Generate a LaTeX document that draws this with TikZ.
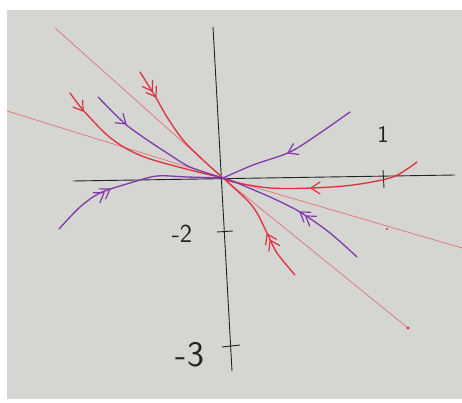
\documentclass[tikz,border=0pt]{standalone}
\definecolor{paper}{RGB}{213,213,209}
\definecolor{pen}{RGB}{222,48,62}
\definecolor{thinred}{RGB}{230,100,110}
\definecolor{violet2}{RGB}{128,58,170}
\definecolor{ink}{RGB}{35,35,35}
\tikzset{
 traj/.style={line width=1.3pt, line cap=round, line join=round},
 redtraj/.style={traj, color=pen},
 purtraj/.style={traj, color=violet2},
 guide/.style={line width=0.6pt, color=thinred},
 axisline/.style={line width=0.9pt, color=ink},
 chev/.pic={\draw[line width=1.2pt, line cap=round, line join=round] (-9,-6) -- (0,0) -- (-9,6);},
 dchev/.pic={\draw[line width=1.2pt, line cap=round, line join=round] (-9,-6) -- (0,0) -- (-9,6) (-16,-6) -- (-7,0) -- (-16,6);},
 lbl/.style={font=\sffamily, text=ink, inner sep=0pt},
}
\begin{document}
\begin{tikzpicture}[x=1pt,y=-1pt]
\useasboundingbox (0,0) rectangle (462,403);
\fill[white] (0,0) rectangle (462,403);
\fill[paper] (7,10) rectangle (462,399);
% axes
\coordinate (O) at (223,178);
\draw[axisline] (73,181) -- (455,175);
\draw[axisline] (213,27) -- (232,371);
\draw[axisline] (217,232) -- (233,231);
\draw[axisline] (222,347) -- (240,345);
\draw[axisline] (383,170) -- (384,188);
\node[lbl, font=\sffamily\fontsize{24}{24}\selectfont] (t1) at (383,134) {1};
\node[lbl, font=\sffamily\fontsize{26}{26}\selectfont] (t2) at (182,234) {-2};
\node[lbl, font=\sffamily\fontsize{36}{36}\selectfont] (t3) at (190,355) {-3};
% straight-line solutions
\draw[guide] (55,28) -- (O) -- (408,328);
\fill[pen] (408,328) circle (1.6);
\draw[guide] (7,111) -- (O) -- (462,248);
\fill[pen] (387,229) circle (1.2);
% red trajectories
\draw[redtraj] plot[smooth] coordinates {(140,72) (155,96) (167,117) (183,140) (203,160) (223,178)};
\pic[color=pen, rotate=-58] at (156,97) {dchev};
\draw[redtraj] plot[smooth] coordinates {(295,275) (277,253) (267,233) (257,213) (247,200) (223,178)};
\pic[color=pen, rotate=117] at (267,234) {dchev};
\draw[redtraj] plot[smooth] coordinates {(70,93) (83,110) (107,135) (127,149) (150,159) (190,170) (223,178)};
\pic[color=pen, rotate=-55] at (83,111) {chev};
\draw[redtraj] plot[smooth] coordinates {(417,162) (393,177) (353,185) (312,188) (270,188) (233,182) (223,178)};
\pic[color=pen, rotate=180] at (311,188) {chev};
% purple trajectories
\draw[purtraj] plot[smooth] coordinates {(98,97) (123,122) (140,135) (167,153) (190,167) (223,178)};
\pic[color=violet2, rotate=-40] at (126,124) {chev};
\draw[purtraj] plot[smooth] coordinates {(357,257) (330,233) (300,212) (270,197) (230,180) (223,178)};
\pic[color=violet2, rotate=145] at (300,212) {dchev};
\draw[purtraj] plot[smooth] coordinates {(350,112) (320,133) (290,152) (253,165) (223,178)};
\pic[color=violet2, rotate=-154] at (288,153) {chev};
\draw[purtraj] plot[smooth] coordinates {(59,229) (80,207) (100,193) (130,183) (157,176) (187,177) (223,178)};
\pic[color=violet2, rotate=33] at (110,189) {dchev};
\end{tikzpicture}
\end{document}
